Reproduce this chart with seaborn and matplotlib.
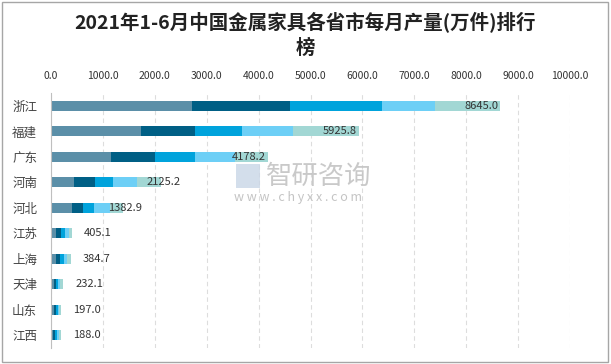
import numpy as np
import pandas as pd
import matplotlib.pyplot as plt
import seaborn as sns
from matplotlib.patches import Rectangle

sns.set_theme(style="white")
plt.rcParams["font.family"] = ["Noto Sans CJK SC", "DejaVu Sans"]

# data (万件)
provinces = ["浙江", "福建", "广东", "河南", "河北", "江苏", "上海", "天津", "山东", "江西"]
seg1 = [2710, 1730, 1155, 445, 405, 95, 95, 55, 55, 40]
seg2 = [1900, 1040, 848, 405, 215, 95, 80, 40, 40, 40]
seg3 = [1770, 905, 771, 350, 212, 80, 75, 40, 40, 40]
seg4 = [1020, 983, 770, 460, 310, 75, 60, 40, 25, 35]
totals = [8645.0, 5925.8, 4178.2, 2125.2, 1382.9, 405.1, 384.7, 232.1, 197.0, 188.0]
seg5 = [t - a - b - c - d for t, a, b, c, d in zip(totals, seg1, seg2, seg3, seg4)]

colors = ["#5b8fa8", "#005f85", "#00a3dc", "#6dcff6", "#a2d7d4"]

df = pd.DataFrame({"省份": provinces, "s1": seg1, "s2": seg2, "s3": seg3, "s4": seg4, "s5": seg5})
cols = ["s1", "s2", "s3", "s4", "s5"]
cum = df[cols].cumsum(axis=1)

fig = plt.figure(figsize=(6.11, 3.64), dpi=100)
ax = fig.add_axes([51 / 611, 1 - 348 / 364, 519 / 611, 255 / 364])

# stacked bars: draw cumulative totals from the back to the front
for i in range(len(cols) - 1, -1, -1):
    sns.barplot(x=cum[cols[i]], y=df["省份"], orient="h", color=colors[i],
                width=0.4, ax=ax, saturation=1, edgecolor="none")

ax.set_xlim(0, 10000)
ax.set_ylim(9.5, -0.5)
ax.set_xticks(np.arange(0, 10001, 1000))
ax.set_xticklabels([f"{v:.1f}" for v in np.arange(0, 10001, 1000)])
ax.xaxis.tick_top()
ax.tick_params(axis="x", length=0, labelsize=7.5, colors="#333333", pad=9)
ax.tick_params(axis="y", length=0, labelsize=9, colors="#444444", pad=10)
ax.set_xlabel("")
ax.set_ylabel("")
ax.grid(axis="x", color="#dddddd", linestyle=(0, (4, 3)), linewidth=0.8)
ax.set_axisbelow(True)
for s in ["top", "right", "bottom"]:
    ax.spines[s].set_visible(False)
ax.spines["left"].set_color("#bfbfbf")
ax.spines["left"].set_linewidth(0.8)

# total labels
for i, t in enumerate(totals):
    if t >= 3000:
        ax.text(t - 30, i, f"{t:.1f}", ha="right", va="center", fontsize=8, color="#333333")
    elif t >= 1000:
        ax.text(t + 40, i, f"{t:.1f}", ha="center", va="center", fontsize=8, color="#333333")
    else:
        ax.text(t + 500, i, f"{t:.1f}", ha="center", va="center", fontsize=8, color="#333333")

# title
fig.text(0.5, 1 - 22 / 364, "2021年1-6月中国金属家具各省市每月产量(万件)排行",
         ha="center", va="center", fontsize=14, fontweight="bold", color="#222222")
fig.text(0.5, 1 - 48 / 364, "榜", ha="center", va="center", fontsize=14,
         fontweight="bold", color="#222222")

# watermark
fig.text(266 / 611, 1 - 176 / 364, "智研咨询", ha="left", va="center", fontsize=19,
         color="#c4c4c4", alpha=0.9)
fig.text(234 / 611, 1 - 197 / 364, "w w w . c h y x x . c o m", ha="left", va="center",
         fontsize=9, color="#c4c4c4")
fig.patches.append(Rectangle((236 / 611, 1 - 188 / 364), 24 / 611, 24 / 364,
                             transform=fig.transFigure, facecolor="#c9d6e6",
                             edgecolor="none", alpha=0.8))

# outer border
fig.patches.append(Rectangle((2 / 611, 2 / 364), 606 / 611, 360 / 364,
                             transform=fig.transFigure, fill=False,
                             edgecolor="#a6a6a6", linewidth=1))

fig.savefig("out.png", dpi=100)
